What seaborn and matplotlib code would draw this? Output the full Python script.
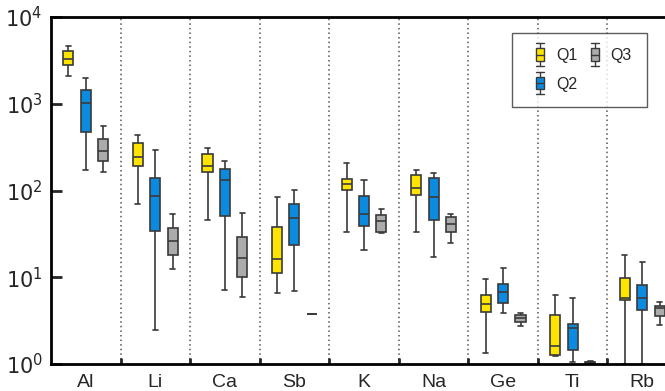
import matplotlib
matplotlib.use("Agg")
import matplotlib.pyplot as plt
from matplotlib.patches import Patch, Rectangle
from matplotlib.lines import Line2D
from matplotlib.legend_handler import HandlerBase
import seaborn as sns
import pandas as pd

# five-number summaries: [min, q1, median, q3, max]
elements = ['Al', 'Li', 'Ca', 'Sb', 'K', 'Na', 'Ge', 'Ti', 'Rb']
groups = ['Q1', 'Q2', 'Q3']

q1_stats = [
    [2070, 2770, 3310, 4060, 4600],
    [70.5, 190, 243, 350, 433],
    [45.7, 162, 193, 261, 309],
    [6.53, 11.2, 16.1, 38.3, 84.9],
    [33, 101, 119, 136, 206],
    [33.2, 87.9, 108, 150, 174],
    [1.33, 3.94, 4.95, 6.29, 9.63],
    [1.25, 1.28, 1.60, 3.64, 6.29],
    [1.0, 5.47, 5.82, 9.73, 18.2],
]
q2_stats = [
    [171, 476, 1010, 1440, 1980],
    [2.45, 33.9, 85.7, 138, 293],
    [7.13, 51.3, 132, 175, 221],
    [7.0, 23.5, 47.8, 70.5, 102],
    [20.5, 39.3, 53, 87, 132],
    [17.3, 45.3, 84, 138, 160],
    [3.84, 5.0, 6.82, 8.29, 12.7],
    [1.05, 1.44, 2.58, 2.92, 5.82],
    [1.0, 4.19, 5.82, 8.07, 15.1],
]
q3_stats = [
    [163, 217, 288, 395, 558],
    [12.3, 17.9, 26.2, 36.7, 53],
    [5.97, 10.2, 16.7, 29.4, 54.6],
    [3.74, 3.74, 3.74, 3.74, 3.74],
    [32.4, 33.5, 44.5, 52.2, 60.7],
    [24.8, 33, 41.4, 49, 53],
    [2.74, 3.02, 3.36, 3.64, 3.90],
    [1.03, 1.04, 1.05, 1.06, 1.07],
    [2.82, 3.57, 4.46, 4.70, 5.14],
]

colors = {'Q1': '#FFE400', 'Q2': '#0A8BE0', 'Q3': '#ABABAB'}
edge = '#3A3A3A'

# long table: 5 values per box reproduce the summary exactly with whis=(0, 100)
rows = []
for grp, stats in zip(groups, [q1_stats, q2_stats, q3_stats]):
    for el, vals in zip(elements, stats):
        for v in vals:
            rows.append({'Element': el, 'Group': grp, 'Value': v})
df = pd.DataFrame(rows)

sns.set_style("white")
plt.rcParams['font.family'] = ['Liberation Sans', 'DejaVu Sans']

fig = plt.figure(figsize=(6.65, 3.91), dpi=100)
ax = fig.add_axes([51 / 665, 27 / 391, 626 / 665, 347 / 391])

line_kw = dict(color=edge, linewidth=1.2)
sns.boxplot(data=df, x='Element', y='Value', hue='Group', order=elements,
            hue_order=groups, palette=colors, saturation=1, whis=(0, 100),
            width=0.75, gap=0.42, log_scale=True, linecolor=edge, linewidth=1.2,
            showfliers=False, legend=False, ax=ax,
            whiskerprops=line_kw, capprops=line_kw, medianprops=line_kw)

ax.set_ylim(1, 1e4)
ax.set_xlim(-0.5, len(elements) - 0.5)

# dotted separators between elements
for i in range(len(elements) - 1):
    ax.axvline(i + 0.5, color='#555555', linestyle=(0, (1, 2)), linewidth=1.1, zorder=0)

ax.set_xlabel('')
ax.set_ylabel('')
ax.set_yticks([1, 10, 100, 1000, 10000])
ax.set_yticklabels([r'$10^{0}$', r'$10^{1}$', r'$10^{2}$', r'$10^{3}$', r'$10^{4}$'])
ax.minorticks_off()
ax.tick_params(axis='y', which='major', direction='in', length=8, width=2,
               labelsize=15, pad=6, left=True)
ax.set_xticks(range(len(elements)))
ax.set_xticklabels(elements)
ax.tick_params(axis='x', which='major', length=0, labelsize=14, pad=7)
ax.set_xticks([i + 0.5 for i in range(len(elements) - 1)], minor=True)
ax.tick_params(axis='x', which='minor', direction='in', length=4, width=2, bottom=True)

for side in ['left', 'bottom', 'top']:
    ax.spines[side].set_linewidth(2)
    ax.spines[side].set_color('black')
ax.spines['right'].set_visible(False)


class BoxHandler(HandlerBase):
    # small box-and-whisker glyph, placed at the right end of the handle box
    def create_artists(self, legend, orig_handle, xdescent, ydescent,
                       width, height, fontsize, trans):
        bw = 6
        cx = width - xdescent - 8
        mid = height / 2
        artists = [
            Line2D([cx, cx], [mid - 8, mid + 8], color=edge, lw=1, transform=trans),
            Line2D([cx - bw / 2, cx + bw / 2], [mid + 8, mid + 8], color=edge, lw=1, transform=trans),
            Line2D([cx - bw / 2, cx + bw / 2], [mid - 8, mid - 8], color=edge, lw=1, transform=trans),
            Rectangle((cx - bw / 2, mid - 4.5), bw, 9,
                      facecolor=orig_handle.get_facecolor(), edgecolor=edge,
                      lw=1, transform=trans),
            Line2D([cx - bw / 2, cx + bw / 2], [mid, mid], color=edge, lw=1,
                   transform=trans),
        ]
        return artists


handles = [Patch(facecolor=colors[g], label=g) for g in groups]
leg = ax.legend(handles=handles, ncol=2, handler_map={Patch: BoxHandler()},
                loc='upper left', bbox_to_anchor=(512 / 665, 1 - 33 / 391),
                bbox_transform=fig.transFigure, fontsize=11.5, frameon=True,
                fancybox=False, edgecolor='#333333', handlelength=1.5,
                handletextpad=0.3, columnspacing=0.3, labelspacing=0.85,
                borderpad=0.95, borderaxespad=0)
leg.get_frame().set_linewidth(1.0)

fig.savefig('out.png', dpi=100)
